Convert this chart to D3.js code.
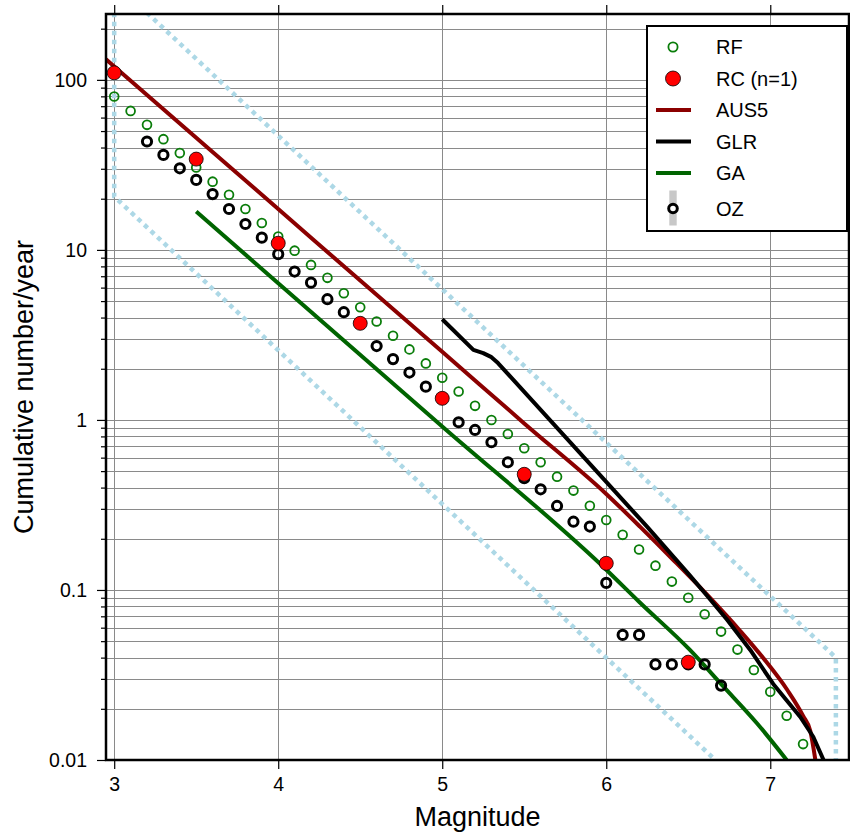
<!DOCTYPE html>
<html>
<head>
<meta charset="utf-8">
<script src="https://cdn.jsdelivr.net/npm/d3@7"></script>
<style>
  body { margin: 0; background: #fff; }
  svg text { font-family: "Liberation Sans", Arial, Helvetica, sans-serif; fill: #000; }
</style>
</head>
<body>
<div id="chart"></div>
<script>
// magnitude-frequency data
var rfMag = [3.0, 3.1, 3.2, 3.3, 3.4, 3.5, 3.6, 3.7, 3.8, 3.9, 4.0, 4.1, 4.2, 4.3, 4.4, 4.5, 4.6, 4.7, 4.8, 4.9,
             5.0, 5.1, 5.2, 5.3, 5.4, 5.5, 5.6, 5.7, 5.8, 5.9, 6.0, 6.1, 6.2, 6.3, 6.4, 6.5, 6.6, 6.7, 6.8, 6.9,
             7.0, 7.1, 7.2];
var rfRate = [79.8, 65.7, 54.4, 44.8, 37.1, 30.5, 25.2, 21.1, 17.4, 14.4, 12.0, 9.9, 8.16, 6.85, 5.56, 4.60, 3.79, 3.13, 2.60, 2.15,
              1.77, 1.47, 1.21, 1.0, 0.827, 0.681, 0.564, 0.464, 0.384, 0.313, 0.258, 0.211, 0.173, 0.139, 0.112, 0.090, 0.072, 0.0569, 0.0446, 0.0338,
              0.0252, 0.0182, 0.0124];

var rcMag = [3.0, 3.5, 4.0, 4.5, 5.0, 5.5, 6.0, 6.5];
var rcRate = [110, 34.2, 10.95, 3.70, 1.34, 0.479, 0.1435, 0.0376];

var ozMag = [3.0, 3.2, 3.3, 3.4, 3.5, 3.6, 3.7, 3.8, 3.9, 4.0, 4.1, 4.2, 4.3, 4.4, 4.5, 4.6, 4.7, 4.8, 4.9,
             5.0, 5.1, 5.2, 5.3, 5.4, 5.5, 5.6, 5.7, 5.8, 5.9, 6.0, 6.1, 6.2, 6.3, 6.4, 6.5, 6.6, 6.7];
var ozRate = [110, 43.4, 36.2, 30.2, 25.8, 21.3, 17.4, 14.2, 11.8, 9.44, 7.46, 6.42, 5.13, 4.30, 3.70, 2.72, 2.28, 1.90, 1.57,
              1.34, 0.969, 0.873, 0.739, 0.564, 0.454, 0.391, 0.312, 0.252, 0.236, 0.110, 0.0544, 0.0544, 0.0365, 0.0365, 0.0365, 0.0365, 0.0274];

var aus5 = [[2.95, 132], [3.5, 45.7], [4.0, 17.4], [4.5, 6.6], [5.0, 2.52], [5.5, 0.954], [6.0, 0.367], [6.207, 0.235],
            [6.409, 0.150], [6.616, 0.0935], [6.817, 0.0574], [6.957, 0.0398], [7.104, 0.0258], [7.201, 0.0181],
            [7.244, 0.0148], [7.275, 0.0100]];
var glr = [[5.0, 3.91], [5.19, 2.58], [5.25, 2.47], [5.30, 2.34], [5.34, 2.16], [6.0, 0.432], [6.25, 0.235], [6.512, 0.121],
           [6.616, 0.0922], [6.738, 0.0666], [6.878, 0.0444], [7.018, 0.0280], [7.183, 0.0179], [7.262, 0.0137], [7.325, 0.0100]];
var ga = [[3.5, 16.8], [4.0, 6.37], [5.0, 0.916], [6.0, 0.1316], [6.2, 0.0853], [6.51, 0.0444], [6.715, 0.0270],
          [6.92, 0.0164], [7.1, 0.0100]];

var upperBound = [[3.2, 248], [7.4, 0.04], [7.4, 0.01]];
var lowerBound = [[3.0, 248], [3.0, 20.6], [6.665, 0.01]];

var xTicks = [3, 4, 5, 6, 7];
var yMajor = [0.01, 0.1, 1, 10, 100];
var yMajorLabels = ["0.01", "0.1", "1", "10", "100"];

var legendItems = ["RF", "RC (n=1)", "AUS5", "GLR", "GA", "OZ"];

// chart setup
var width = 850, height = 837;
var margin = {top: 14, right: 1, bottom: 77, left: 106};

var svg = d3.select("#chart").append("svg")
    .attr("width", width)
    .attr("height", height);

var x = d3.scaleLinear().domain([2.95, 7.48]).range([margin.left, width - margin.right]);
var y = d3.scaleLog().domain([0.01, 244]).range([height - margin.bottom, margin.top]);

var x0 = x.range()[0], x1 = x.range()[1];
var y0 = y.range()[0], y1 = y.range()[1];

// all 1..9 x 10^k values for the grid / minor ticks
var yGrid = [];
[0.01, 0.1, 1, 10, 100].forEach(function(dec){
    for (var m = 1; m <= 9; m++) {
        var v = +(m * dec).toPrecision(3);
        if (v <= y.domain()[1]) yGrid.push(v);
    }
});
var yMinor = yGrid.filter(function(v){ return yMajor.indexOf(v) < 0; });

svg.append("defs").append("clipPath").attr("id", "plotClip")
    .append("rect")
    .attr("x", x0).attr("y", y1)
    .attr("width", x1 - x0).attr("height", y0 - y1);

// grid
var grid = svg.append("g").attr("shape-rendering", "crispEdges");
grid.selectAll(".hgrid").data(yGrid).enter()
    .append("line")
    .attr("x1", x0).attr("x2", x1)
    .attr("y1", function(d){ return Math.round(y(d)) + 0.5; })
    .attr("y2", function(d){ return Math.round(y(d)) + 0.5; })
    .attr("stroke", "#8a8a8a")
    .attr("stroke-width", 1);
grid.selectAll(".vgrid").data(xTicks).enter()
    .append("line")
    .attr("y1", y1).attr("y2", y0)
    .attr("x1", function(d){ return Math.round(x(d)) + 0.5; })
    .attr("x2", function(d){ return Math.round(x(d)) + 0.5; })
    .attr("stroke", "#8a8a8a")
    .attr("stroke-width", 1);

var plot = svg.append("g").attr("clip-path", "url(#plotClip)");

var line = d3.line()
    .x(function(d){ return x(d[0]); })
    .y(function(d){ return y(d[1]); });
var smoothLine = d3.line()
    .x(function(d){ return x(d[0]); })
    .y(function(d){ return y(d[1]); })
    .curve(d3.curveMonotoneX);

// dotted bounds
[upperBound, lowerBound].forEach(function(b){
    plot.append("path")
        .attr("d", line(b))
        .attr("fill", "none")
        .attr("stroke", "#add8e6")
        .attr("stroke-width", 4.5)
        .attr("stroke-dasharray", "4.5,4.5");
});

// model lines (GLR keeps its angular step)
var models = [
    {data: aus5, color: "#8b0000", gen: smoothLine},
    {data: glr, color: "#000000", gen: line},
    {data: ga, color: "#006400", gen: smoothLine}
];
models.forEach(function(m){
    plot.append("path")
        .attr("d", m.gen(m.data))
        .attr("fill", "none")
        .attr("stroke", m.color)
        .attr("stroke-width", 4)
        .attr("stroke-linejoin", "round");
});

// RF points
plot.selectAll(".rf").data(rfMag).enter()
    .append("circle")
    .attr("cx", function(d){ return x(d); })
    .attr("cy", function(d, i){ return y(rfRate[i]); })
    .attr("r", 4.4)
    .attr("fill", "none")
    .attr("stroke", "#0a7d0a")
    .attr("stroke-width", 1.8);

// OZ points
plot.selectAll(".oz").data(ozMag).enter()
    .append("circle")
    .attr("cx", function(d){ return x(d); })
    .attr("cy", function(d, i){ return y(ozRate[i]); })
    .attr("r", 4.6)
    .attr("fill", "none")
    .attr("stroke", "#000")
    .attr("stroke-width", 3);

// RC points
plot.selectAll(".rc").data(rcMag).enter()
    .append("circle")
    .attr("cx", function(d){ return x(d); })
    .attr("cy", function(d, i){ return y(rcRate[i]); })
    .attr("r", 7)
    .attr("fill", "#ff0000")
    .attr("stroke", "#000")
    .attr("stroke-width", 0.8);

// axes
var fontSize = "19.5px";

var xBottom = svg.append("g")
    .attr("transform", "translate(0," + y0 + ")")
    .call(d3.axisBottom(x).tickValues(xTicks).tickSize(9).tickPadding(8).tickFormat(d3.format("d")));
var xTop = svg.append("g")
    .attr("transform", "translate(0," + y1 + ")")
    .call(d3.axisTop(x).tickValues(xTicks).tickSize(9).tickFormat(""));

var yLeft = svg.append("g")
    .attr("transform", "translate(" + x0 + ",0)")
    .call(d3.axisLeft(y).tickValues(yMajor).tickSize(9).tickPadding(10)
        .tickFormat(function(d, i){ return yMajorLabels[i]; }));
var yLeftMinor = svg.append("g")
    .attr("transform", "translate(" + x0 + ",0)")
    .call(d3.axisLeft(y).tickValues(yMinor).tickSize(5).tickFormat(""));
var yRight = svg.append("g")
    .attr("transform", "translate(" + x1 + ",0)")
    .call(d3.axisRight(y).tickValues(yGrid).tickSize(5).tickFormat(""));

[xBottom, xTop, yLeft, yLeftMinor, yRight].forEach(function(g){
    g.select(".domain").remove();
    g.selectAll(".tick line").attr("stroke", "#000").attr("stroke-width", 1.2);
    g.selectAll("text").style("font-size", fontSize).attr("fill", "#000");
});

// frame
svg.append("rect")
    .attr("x", x0).attr("y", y1)
    .attr("width", x1 - x0).attr("height", y0 - y1)
    .attr("fill", "none")
    .attr("stroke", "#000")
    .attr("stroke-width", 2.5);

// axis titles
svg.append("text")
    .attr("x", (x0 + x1) / 2)
    .attr("y", 826)
    .attr("text-anchor", "middle")
    .style("font-size", "27px")
    .text("Magnitude");

svg.append("text")
    .attr("transform", "translate(33," + ((y0 + y1) / 2) + ") rotate(-90)")
    .attr("text-anchor", "middle")
    .style("font-size", "27px")
    .text("Cumulative number/year");

// legend
var legend = svg.append("g").attr("transform", "translate(647,26)");
legend.append("rect")
    .attr("width", 200).attr("height", 205)
    .attr("fill", "#fff")
    .attr("stroke", "#000")
    .attr("stroke-width", 2);

var rowY = function(i){ return 21 + i * 31.5 + (i == 5 ? 4 : 0); };
var symX = 26;

legend.selectAll(".ltext").data(legendItems).enter()
    .append("text")
    .attr("x", 69)
    .attr("y", function(d, i){ return rowY(i); })
    .attr("dy", "0.36em")
    .style("font-size", "20px")
    .text(function(d){ return d; });

legend.append("circle").attr("cx", symX).attr("cy", rowY(0)).attr("r", 4.6)
    .attr("fill", "none").attr("stroke", "#0a7d0a").attr("stroke-width", 1.8);
legend.append("circle").attr("cx", symX).attr("cy", rowY(1)).attr("r", 7.5)
    .attr("fill", "#ff0000").attr("stroke", "#000").attr("stroke-width", 0.8);
[["#8b0000", 2], ["#000000", 3], ["#006400", 4]].forEach(function(s){
    legend.append("line")
        .attr("x1", 9).attr("x2", 44)
        .attr("y1", rowY(s[1])).attr("y2", rowY(s[1]))
        .attr("stroke", s[0]).attr("stroke-width", 4);
});
legend.append("rect")
    .attr("x", symX - 3.7).attr("y", rowY(5) - 18)
    .attr("width", 7.4).attr("height", 35)
    .attr("fill", "#c8c8c8");
legend.append("circle").attr("cx", symX).attr("cy", rowY(5)).attr("r", 4.3)
    .attr("fill", "#fff").attr("stroke", "#000").attr("stroke-width", 3);
</script>
</body>
</html>
